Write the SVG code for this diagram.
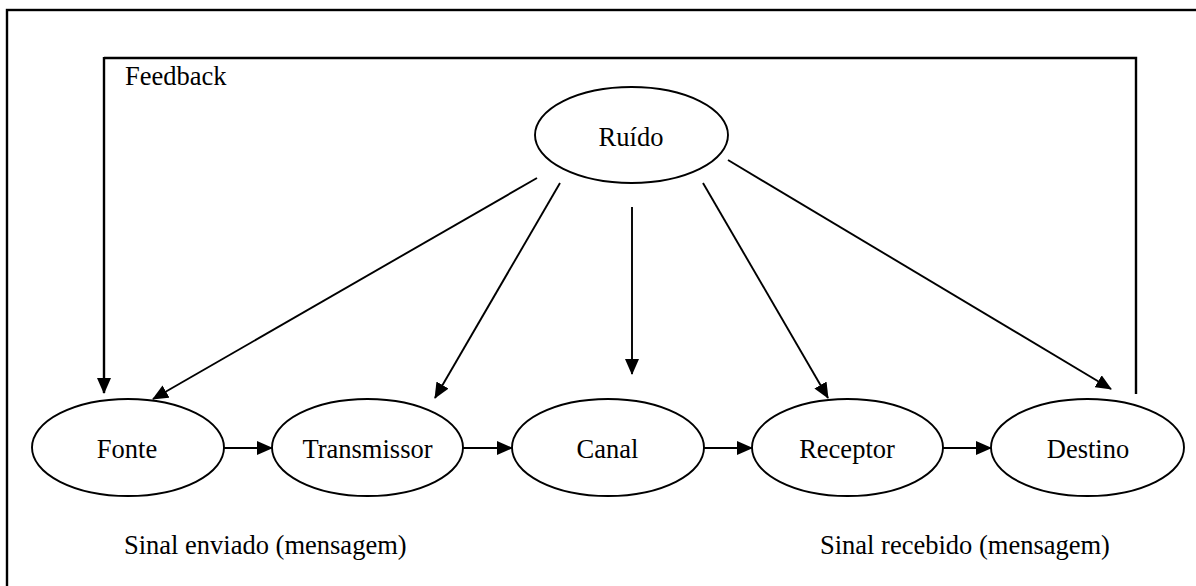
<svg xmlns="http://www.w3.org/2000/svg" width="1196" height="586" viewBox="0 0 1196 586">
<style>
.node ellipse{fill:#fff;stroke:#000;stroke-width:1.9}
text{font-family:"Liberation Serif","Times New Roman",serif;font-size:26.5px;fill:#000}
.c{text-anchor:middle}
.conn line,.conn polyline{stroke:#000;stroke-width:1.9;fill:none}
.conn .fb{stroke-width:2.4}
</style>
<defs>
<marker id="ah" viewBox="0 0 16 14" markerWidth="16" markerHeight="14" refX="15" refY="7" orient="auto" markerUnits="userSpaceOnUse">
<path d="M0,0 L16,7 L0,14 z" fill="#000"/>
</marker>
</defs>
<rect x="7" y="10" width="1220" height="620" fill="#fff" stroke="#000" stroke-width="2.4"/>
<g id="connectors" class="conn">
<polyline class="fb" points="104,58 1136,58 1136,394"/>
<line class="fb" x1="104" y1="57" x2="104" y2="393" marker-end="url(#ah)"/>
<line x1="537" y1="178" x2="153" y2="399" marker-end="url(#ah)"/>
<line x1="560" y1="183" x2="435" y2="398" marker-end="url(#ah)"/>
<line x1="632" y1="207" x2="632" y2="374" marker-end="url(#ah)"/>
<line x1="703" y1="183" x2="828" y2="398" marker-end="url(#ah)"/>
<line x1="728" y1="160" x2="1111" y2="389" marker-end="url(#ah)"/>
<line x1="224" y1="448" x2="272" y2="448" marker-end="url(#ah)"/>
<line x1="463" y1="448" x2="512" y2="448" marker-end="url(#ah)"/>
<line x1="704" y1="448" x2="752" y2="448" marker-end="url(#ah)"/>
<line x1="943" y1="448" x2="991" y2="448" marker-end="url(#ah)"/>
</g>
<g id="ruido" class="node"><ellipse cx="631.5" cy="135" rx="96.5" ry="48"/><text class="c" x="631" y="146">Ruído</text></g>
<g id="fonte" class="node"><ellipse cx="128" cy="447.5" rx="96" ry="48.5"/><text class="c" x="127" y="458">Fonte</text></g>
<g id="transmissor" class="node"><ellipse cx="367.5" cy="447.5" rx="95.5" ry="48.5"/><text class="c" x="367.5" y="458">Transmissor</text></g>
<g id="canal" class="node"><ellipse cx="608" cy="447.5" rx="96" ry="48.5"/><text class="c" x="607.5" y="458">Canal</text></g>
<g id="receptor" class="node"><ellipse cx="847.5" cy="447.5" rx="95.5" ry="48.5"/><text class="c" x="847" y="458">Receptor</text></g>
<g id="destino" class="node"><ellipse cx="1087.5" cy="447.5" rx="96.5" ry="48.5"/><text class="c" x="1088" y="458">Destino</text></g>
<text x="125" y="85">Feedback</text>
<text x="124" y="554">Sinal enviado (mensagem)</text>
<text x="820" y="554">Sinal recebido (mensagem)</text>
</svg>
